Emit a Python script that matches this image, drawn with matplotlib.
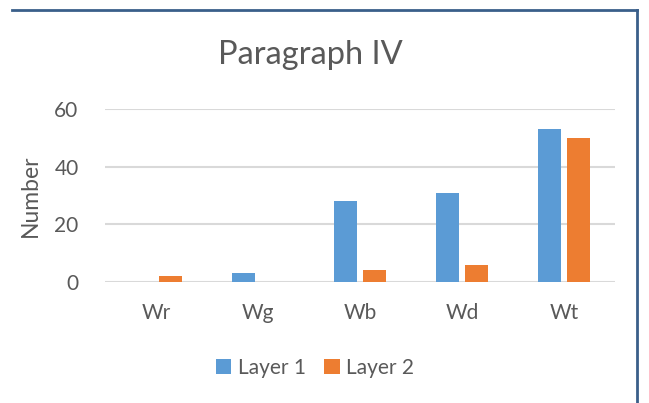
import matplotlib
matplotlib.use("Agg")
import matplotlib.pyplot as plt
from matplotlib.lines import Line2D
import numpy as np

categories = ["Wr", "Wg", "Wb", "Wd", "Wt"]
layer1 = [0, 3, 28, 31, 53]
layer2 = [2, 0, 4, 6, 50]
series_names = ["Layer 1", "Layer 2"]
yticks = [0, 20, 40, 60]

plt.rcParams['font.family'] = ['Lato', 'DejaVu Sans']
txt = "#595959"
blue = "#5B9BD5"
orange = "#ED7D31"

fig = plt.figure(figsize=(6.49, 4.03), dpi=100)
ax = fig.add_axes([105/649, 1-282/403, 510/649, (282-109)/403])

x = np.arange(len(categories))
w = 0.225
off = 0.142
ax.bar(x - off, layer1, w, color=blue, label=series_names[0], zorder=3)
ax.bar(x + off, layer2, w, color=orange, label=series_names[1], zorder=3)

ax.set_xlim(-0.5, len(categories) - 0.5)
ax.set_ylim(0, 60)
ax.set_yticks(yticks)
ax.set_xticks(x)
ax.set_xticklabels(categories)
ax.yaxis.grid(True, color="#d9d9d9", linewidth=1.5, zorder=0)
for s in ["top", "right", "left", "bottom"]:
    ax.spines[s].set_visible(False)
ax.axhline(0, color="#d9d9d9", linewidth=1.8, zorder=2)
ax.tick_params(axis="both", length=0, labelsize=15, labelcolor=txt)
ax.tick_params(axis="x", pad=15)
ax.tick_params(axis="y", pad=19)
ax.set_ylabel("Number", fontsize=16.5, color=txt, labelpad=10)

fig.text(310/649, 1-55/403, "Paragraph IV", ha="center", va="center",
         fontsize=23.5, color=txt)

leg = fig.legend(loc="center", bbox_to_anchor=(315/649, 1-368/403), ncol=2,
                 frameon=False, fontsize=15, handlelength=0.75, handleheight=0.75,
                 handletextpad=0.3, columnspacing=0.9)
for t in leg.get_texts():
    t.set_color(txt)

bc = "#3A5F8A"
fig.add_artist(Line2D([12/649, 637/649], [1-10/403, 1-10/403], color=bc,
                      linewidth=2, transform=fig.transFigure))
fig.add_artist(Line2D([637/649, 637/649], [1-10/403, 0], color=bc,
                      linewidth=2, transform=fig.transFigure))

fig.savefig("out.png", dpi=100)
